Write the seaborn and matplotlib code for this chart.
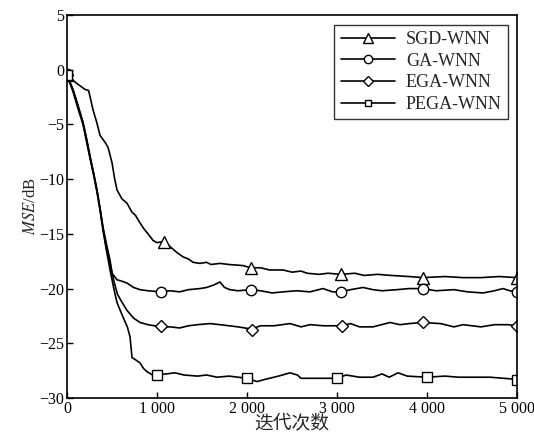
import numpy as np
import pandas as pd
import matplotlib
matplotlib.use('Agg')
import matplotlib.pyplot as plt
from matplotlib.lines import Line2D
import seaborn as sns

# curves (iterations, MSE in dB)
sgd_x = [0, 60, 100, 150, 200, 240, 290, 330, 367, 420, 456, 500, 530, 556, 610, 667, 720, 760,
         811, 860, 900, 956, 1000, 1080, 1150, 1220, 1289, 1350, 1400, 1478, 1550, 1600, 1700,
         1800, 1956, 2040, 2150, 2250, 2400, 2500, 2600, 2667, 2800, 2900, 3040, 3200, 3300,
         3450, 3600, 3800, 3950, 4200, 4400, 4600, 4800, 5000]
sgd_y = [-0.5, -0.9, -1.2, -1.5, -1.8, -1.9, -3.7, -4.8, -6.0, -6.6, -7.1, -8.5, -10.0, -11.0,
         -11.8, -12.2, -13.0, -13.3, -14.0, -14.6, -15.0, -15.6, -15.8, -15.7, -16.2, -16.7,
         -17.1, -17.3, -17.6, -17.7, -17.6, -17.8, -17.7, -17.8, -17.9, -18.1, -18.1, -18.3,
         -18.3, -18.5, -18.4, -18.6, -18.7, -18.6, -18.7, -18.6, -18.8, -18.7, -18.8, -18.9,
         -19.0, -18.9, -19.0, -19.0, -18.9, -19.0]

ga_x = [0, 67, 120, 178, 220, 256, 300, 333, 370, 400, 440, 478, 500, 556, 600, 667, 740, 811,
        900, 1040, 1150, 1250, 1350, 1478, 1550, 1622, 1700, 1750, 1811, 1900, 2040, 2150, 2280,
        2400, 2550, 2700, 2844, 2950, 3040, 3150, 3289, 3400, 3500, 3667, 3800, 3950, 4100,
        4300, 4450, 4622, 4750, 4844, 4920, 5000]
ga_y = [-0.5, -1.9, -3.3, -4.9, -6.5, -8.0, -9.7, -11.0, -12.9, -14.4, -16.0, -17.4, -18.6,
        -19.2, -19.3, -19.5, -19.9, -20.1, -20.2, -20.3, -20.2, -20.3, -20.1, -20.0, -19.9,
        -19.7, -19.4, -19.9, -20.1, -20.2, -20.1, -20.2, -20.4, -20.3, -20.2, -20.3, -20.0,
        -20.3, -20.3, -20.1, -19.9, -20.1, -20.2, -20.1, -20.0, -20.0, -20.2, -20.1, -20.3,
        -20.4, -20.2, -20.0, -20.2, -20.3]

ega_x = [0, 67, 120, 178, 220, 256, 300, 333, 370, 400, 440, 478, 520, 560, 600, 667, 740, 811,
         900, 1040, 1150, 1250, 1350, 1450, 1589, 1700, 1800, 1900, 2050, 2150, 2300, 2478,
         2600, 2700, 2850, 3050, 3150, 3250, 3400, 3589, 3700, 3800, 3950, 4150, 4300, 4400,
         4600, 4750, 4900, 5000]
ega_y = [-0.5, -1.8, -3.2, -4.8, -6.4, -7.9, -9.6, -11.0, -12.8, -14.5, -16.4, -17.7, -19.3,
         -20.5, -21.1, -22.0, -22.7, -23.1, -23.3, -23.5, -23.5, -23.6, -23.4, -23.3, -23.2,
         -23.3, -23.4, -23.5, -23.7, -23.4, -23.4, -23.2, -23.5, -23.3, -23.4, -23.4, -23.2,
         -23.5, -23.5, -23.1, -23.3, -23.2, -23.1, -23.2, -23.5, -23.3, -23.5, -23.3, -23.3,
         -23.4]

pega_x = [0, 67, 120, 178, 220, 256, 300, 333, 370, 400, 440, 478, 520, 556, 622, 670, 700,
          722, 760, 811, 850, 889, 950, 1000, 1100, 1200, 1300, 1450, 1550, 1667, 1800, 1900,
          2000, 2111, 2200, 2350, 2478, 2560, 2600, 2800, 3000, 3100, 3250, 3400, 3500, 3580,
          3678, 3780, 4000, 4200, 4350, 4500, 4700, 4850, 5000]
pega_y = [-0.5, -2.0, -3.5, -5.0, -6.7, -8.1, -9.8, -11.2, -13.0, -14.7, -16.6, -18.3, -20.0,
          -21.3, -22.6, -23.5, -24.4, -26.3, -26.5, -26.8, -27.3, -27.6, -27.9, -27.9, -27.8,
          -27.7, -27.9, -28.0, -27.9, -28.1, -28.0, -28.1, -28.2, -28.5, -28.3, -28.0, -27.7,
          -27.9, -28.2, -28.2, -28.2, -27.9, -28.1, -28.1, -27.8, -28.1, -27.7, -28.0, -28.1,
          -28.0, -28.1, -28.1, -28.1, -28.2, -28.3]

# marker positions
sgd_mx = [0, 1080, 2040, 3040, 3950, 5000]
sgd_my = [-0.5, -15.7, -18.1, -18.7, -19.0, -19.0]
ga_mx = [0, 1040, 2040, 3040, 3950, 5000]
ga_my = [-0.4, -20.3, -20.1, -20.3, -20.0, -20.3]
ega_mx = [0, 1040, 2050, 3050, 3950, 5000]
ega_my = [-0.5, -23.4, -23.8, -23.4, -23.1, -23.4]
pega_mx = [0, 1000, 2000, 3000, 4000, 5000]
pega_my = [-0.5, -27.9, -28.2, -28.2, -28.1, -28.4]

names = ['SGD-WNN', 'GA-WNN', 'EGA-WNN', 'PEGA-WNN']
marks = ['^', 'o', 'D', 's']
msizes = [8, 7.5, 6.5, 6.5]
lines = [(sgd_x, sgd_y), (ga_x, ga_y), (ega_x, ega_y), (pega_x, pega_y)]
markpts = [(sgd_mx, sgd_my), (ga_mx, ga_my), (ega_mx, ega_my), (pega_mx, pega_my)]

sns.set_style('ticks')
plt.rcParams['font.family'] = ['Liberation Serif', 'Noto Sans CJK SC']
plt.rcParams['mathtext.fontset'] = 'stix'

fig = plt.figure(figsize=(5.34, 4.43), dpi=100)
ax = fig.add_axes([0.1255, 0.1016, 0.8427, 0.8645])

handles = []
for name, mk, ms, (lx, ly), (mx, my) in zip(names, marks, msizes, lines, markpts):
    df = pd.DataFrame({'x': lx, 'y': ly})
    sns.lineplot(data=df, x='x', y='y', ax=ax, color='black', linewidth=1.2,
                 estimator=None, sort=False)
    ax.plot(mx, my, linestyle='none', marker=mk, markersize=ms, markerfacecolor='white',
            markeredgecolor='black', markeredgewidth=1.0)
    handles.append(Line2D([0], [0], color='black', linewidth=1.2, marker=mk,
                          markersize=ms - 1.5, markerfacecolor='white',
                          markeredgecolor='black', markeredgewidth=1.0, label=name))

ax.set_xlim(0, 5000)
ax.set_ylim(-30, 5)
ax.set_xticks([0, 1000, 2000, 3000, 4000, 5000])
ax.set_xticklabels(['0', '1 000', '2 000', '3 000', '4 000', '5 000'])
ax.set_yticks([5, 0, -5, -10, -15, -20, -25, -30])
ax.tick_params(direction='in', labelsize=11.5, length=4, width=1, colors='black', pad=2)
for sp in ax.spines.values():
    sp.set_linewidth(1.2)
    sp.set_color('black')

ax.set_xlabel('迭代次数', fontsize=13.5, labelpad=-1)
ax.set_ylabel(r'$\it{MSE}$/dB', fontsize=12, labelpad=0)

leg = ax.legend(handles=handles, loc='upper right', bbox_to_anchor=(0.951, 0.9436),
                bbox_transform=fig.transFigure, fontsize=13, frameon=True, fancybox=False,
                edgecolor='black', handlelength=3.0, handletextpad=0.6, labelspacing=0.25,
                borderpad=0.35, borderaxespad=0)
leg.get_frame().set_linewidth(1.0)

fig.savefig('out.png', dpi=100)
